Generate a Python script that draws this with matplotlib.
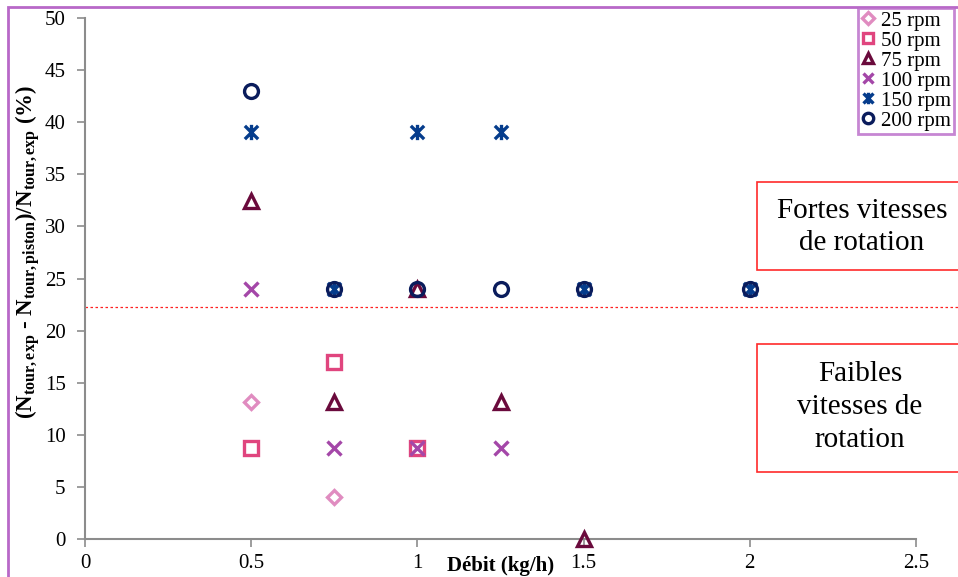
import matplotlib
matplotlib.use("Agg")
import matplotlib.pyplot as plt
from matplotlib.path import Path
from matplotlib.patches import Rectangle

plt.rcParams['font.family'] = ['Liberation Serif', 'DejaVu Serif']
plt.rcParams['mathtext.fontset'] = 'custom'
plt.rcParams['mathtext.rm'] = 'Liberation Serif'
plt.rcParams['mathtext.bf'] = 'Liberation Serif:bold'
plt.rcParams['mathtext.it'] = 'Liberation Serif:italic'

# Data
x_25 = [0.5, 0.75]
y_25 = [13.1, 4.0]
x_50 = [0.5, 0.75, 1.0]
y_50 = [8.7, 17.0, 8.7]
x_75 = [0.5, 0.75, 1.0, 1.25, 1.5]
y_75 = [32.4, 13.1, 24.0, 13.1, 0.0]
x_100 = [0.5, 0.75, 1.0, 1.25]
y_100 = [24.0, 8.7, 8.7, 8.7]
x_150 = [0.5, 0.75, 1.0, 1.25, 1.5, 2.0]
y_150 = [39.1, 24.0, 39.1, 39.1, 24.0, 24.0]
x_200 = [0.5, 0.75, 1.0, 1.25, 1.5, 2.0]
y_200 = [43.0, 24.0, 24.0, 24.0, 24.0, 24.0]
threshold = 22.3

labels = ['25 rpm', '50 rpm', '75 rpm', '100 rpm', '150 rpm', '200 rpm']
xticks = [0, 0.5, 1, 1.5, 2, 2.5]
xticklabels = ['0', '0.5', '1', '1.5', '2', '2.5']

star = Path([(-1, -1), (1, 1), (-1, 1), (1, -1), (0, -1.15), (0, 1.15)],
            [Path.MOVETO, Path.LINETO, Path.MOVETO, Path.LINETO, Path.MOVETO, Path.LINETO])

styles = [
    dict(marker='D', color='#e08cc0', ms=7.5),
    dict(marker='s', color='#e0457e', ms=10),
    dict(marker='^', color='#6a0a3c', ms=10.5),
    dict(marker='x', color='#a447a8', ms=10),
    dict(marker=star, color='#053c8c', ms=11),
    dict(marker='o', color='#0a1c5c', ms=10),
]
series = [(x_25, y_25), (x_50, y_50), (x_75, y_75), (x_100, y_100), (x_150, y_150), (x_200, y_200)]

fig = plt.figure(figsize=(9.58, 5.77), dpi=100)
ax = fig.add_axes([85/958, 1-539/577, (916-85)/958, (539-18)/577])

handles = []
for (xs, ys), st, lab in zip(series, styles, labels):
    h, = ax.plot(xs, ys, linestyle='none', marker=st['marker'], ms=st['ms'],
                 mfc='none', mec=st['color'], mew=2.4, label=lab, clip_on=False, zorder=3)
    handles.append(h)

ax.plot([0, 2.63], [threshold, threshold], color='#ff2020', lw=0.9, ls=(0, (2, 2)), clip_on=False, zorder=2)

ax.set_xlim(0, 2.5)
ax.set_ylim(0, 50)
ax.set_xticks(xticks)
ax.set_xticklabels(xticklabels)
ax.set_yticks(range(0, 51, 5))
for s in ['top', 'right']:
    ax.spines[s].set_visible(False)
for s in ['left', 'bottom']:
    ax.spines[s].set_color('#8c8c8c')
    ax.spines[s].set_linewidth(1.5)
ax.tick_params(axis='both', direction='out', color='#8c8c8c', width=1.2, length=6, labelsize=15)
ax.tick_params(axis='x', pad=5)
ax.tick_params(axis='y', pad=8)

ax.set_ylabel(r'(N$_{\mathbf{tour,exp}}$ - N$_{\mathbf{tour,piston}}$)/N$_{\mathbf{tour,exp}}$ (%)',
              fontsize=16.5, fontweight='bold')
ax.yaxis.set_label_coords(-0.052, 0.55)
fig.text(501/958, 1-566/577, 'Débit (kg/h)', ha='center', va='center', fontsize=15, fontweight='bold')

# Figure border
fig.patches.append(Rectangle((8/958, -0.02), 1.05, 1-7/577 + 0.02, transform=fig.transFigure,
                             fill=False, edgecolor='#b868c8', lw=2))

# Annotation boxes
fig.patches.append(Rectangle((757/958, 1-270/577), 0.3, (270-182)/577, transform=fig.transFigure,
                             fill=True, facecolor='white', edgecolor='#ff2a2a', lw=1.2, zorder=5))
fig.text(862/958, 1-227/577, 'Fortes vitesses\nde rotation', ha='center', va='center',
         fontsize=21, linespacing=1.27, zorder=6)
fig.patches.append(Rectangle((757/958, 1-472/577), 0.3, (472-344)/577, transform=fig.transFigure,
                             fill=True, facecolor='white', edgecolor='#ff2a2a', lw=1.2, zorder=5))
fig.text(860/958, 1-407/577, 'Faibles\nvitesses de\nrotation', ha='center', va='center',
         fontsize=21, linespacing=1.37, zorder=6)

leg = fig.legend(handles=handles, loc='upper left', bbox_to_anchor=(858/958, 1-8/577),
                 fontsize=15, frameon=True, fancybox=False, handlelength=0.7, handletextpad=0.25,
                 borderpad=0.15, labelspacing=0.02, borderaxespad=0, markerscale=0.75)
leg.get_frame().set_edgecolor('#b868c8')
leg.get_frame().set_linewidth(2)

fig.savefig('out.png', dpi=100)
